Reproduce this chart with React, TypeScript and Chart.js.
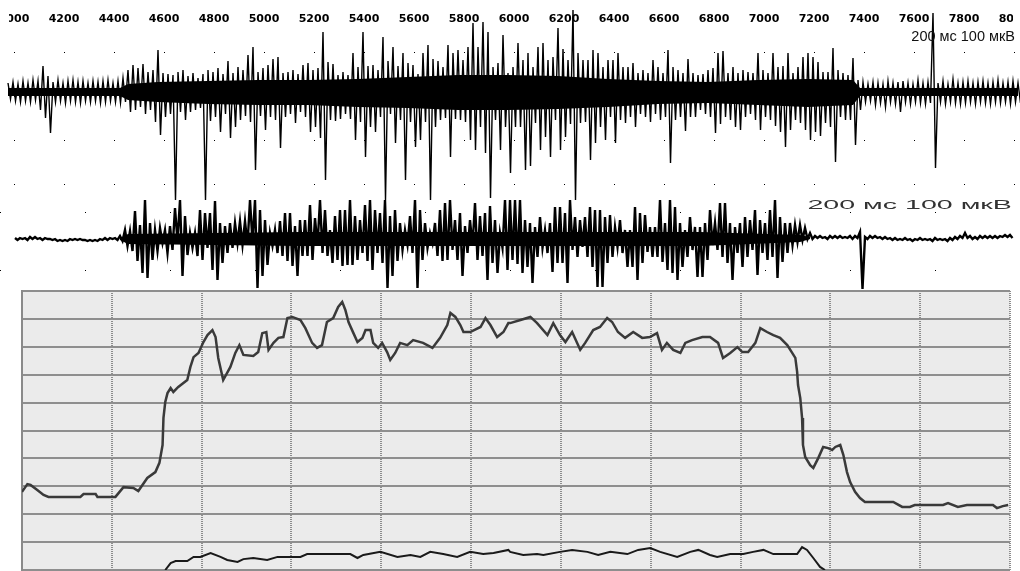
import { useEffect, useRef } from "react";
import { Chart, registerables } from "chart.js";

Chart.register(...registerables);

// ---------- Trace 1 (raw EMG, time axis 200 ms ticks) ----------
const T1_AXIS_MIN = 3944;
const T1_AXIS_MAX = 8024;
const T1_TICK_STEP = 200;
const T1_START = 3976; // ms, first column
const T1_STEP = 20; // ms per column
// peak amplitude above baseline per column
const trace1Up = [
  9, 10, 8, 11, 9, 12, 11, 26, 16, 10,
  12, 9, 11, 12, 10, 11, 9, 11, 10, 11,
  12, 9, 11, 14, 22, 27, 24, 28, 20, 22,
  42, 19, 18, 17, 20, 22, 16, 19, 14, 18,
  22, 20, 24, 18, 31, 19, 25, 22, 37, 45,
  20, 24, 27, 33, 35, 19, 20, 22, 18, 27,
  29, 22, 24, 60, 30, 28, 17, 20, 17, 39,
  25, 60, 26, 27, 22, 55, 31, 45, 26, 39,
  29, 27, 18, 39, 47, 33, 31, 25, 47, 39,
  42, 32, 45, 69, 45, 70, 60, 25, 29, 57,
  19, 25, 49, 32, 39, 25, 45, 49, 32, 35,
  64, 43, 32, 82, 39, 32, 32, 42, 39, 25,
  32, 32, 39, 25, 25, 29, 19, 22, 19, 32,
  25, 19, 42, 25, 22, 19, 33, 19, 17, 18,
  22, 24, 39, 41, 19, 25, 19, 22, 20, 19,
  39, 22, 19, 39, 25, 26, 39, 19, 25, 35,
  39, 35, 30, 20, 20, 44, 22, 19, 17, 34,
  12, 10, 8, 10, 9, 8, 11, 9, 10, 11,
  9, 8, 12, 9, 10, 79, 9, 11, 8, 13,
  9, 10, 11, 9, 10, 11, 9, 10, 12, 9,
  10, 11, 9,
];
// peak amplitude below baseline per column
const trace1Down = [
  7, 9, 10, 9, 10, 8, 18, 26, 41, 10,
  9, 11, 9, 10, 11, 9, 10, 9, 11, 10,
  9, 10, 11, 10, 20, 18, 15, 22, 18, 30,
  43, 25, 22, 108, 20, 28, 20, 18, 16, 108,
  29, 25, 40, 22, 46, 35, 28, 24, 30, 78,
  24, 38, 25, 28, 56, 25, 22, 31, 20, 25,
  40, 35, 46, 88, 28, 29, 27, 22, 27, 48,
  30, 65, 35, 40, 25, 108, 22, 51, 28, 88,
  30, 55, 48, 30, 108, 35, 28, 26, 65, 27,
  28, 30, 48, 58, 35, 61, 106, 28, 58, 35,
  81, 35, 35, 78, 74, 31, 58, 45, 65, 28,
  58, 45, 32, 108, 31, 30, 68, 51, 35, 48,
  25, 51, 28, 31, 25, 35, 22, 25, 30, 22,
  28, 25, 71, 28, 25, 39, 25, 25, 18, 22,
  25, 41, 32, 25, 28, 35, 38, 25, 22, 28,
  38, 25, 28, 34, 40, 55, 38, 28, 31, 38,
  48, 40, 44, 31, 35, 70, 25, 28, 28, 53,
  18, 10, 9, 13, 11, 15, 10, 12, 20, 10,
  12, 10, 11, 12, 11, 76, 10, 12, 10, 11,
  12, 11, 10, 12, 10, 11, 12, 10, 11, 10,
  12, 10, 11,
];
// solid core of trace 1 (dense part of the signal)
const core1Time = [3976, 4424, 4456, 4576, 4776, 4976, 5176, 5376, 5576, 5776, 5976, 6176, 6376, 6576, 6776, 6976, 7176, 7356, 7384, 8016];
const core1Up = [4, 4, 8, 10, 11, 12, 12, 13, 15, 17, 17, 16, 13, 11, 10, 12, 13, 12, 4, 4];
const core1Down = [4, 4, 8, 10, 12, 13, 13, 15, 16, 18, 18, 17, 15, 12, 11, 13, 15, 13, 4, 4];

// ---------- Trace 2 (raw EMG, second channel) ----------
const T2_AXIS_MIN = -35.3;
const T2_AXIS_MAX = 2364.7;
const T2_TICK_STEP = 200;
const T2_STEP = 200 / 17; // ms per column
const trace2Hi = [
  1, 1, 1, 2, 2, 1, 1, 0, 0, -1,
  -1, 0, 0, 0, -1, -1, -1, 0, 1, 1,
  1, 3, 9, 8, 28, 14, 39, 16, 9, 11,
  9, 13, 31, 39, 23, 6, 6, 29, 26, 26,
  38, 16, 13, 16, 16, 18, 18, 39, 39, 29,
  19, 6, 9, 18, 26, 26, 13, 19, 19, 34,
  21, 39, 29, 9, 23, 29, 29, 39, 23, 19,
  34, 39, 29, 26, 39, 23, 29, 16, 9, 23,
  39, 29, 16, 6, 16, 29, 36, 39, 19, 26,
  13, 19, 36, 23, 26, 33, 19, 6, 39, 39,
  39, 39, 19, 16, 12, 22, 9, 16, 32, 32,
  26, 39, 22, 19, 22, 32, 29, 29, 22, 24,
  12, 19, 9, 9, 32, 26, 24, 12, 12, 39,
  16, 39, 32, 16, 9, 22, 12, 12, 16, 29,
  16, 36, 36, 16, 12, 16, 22, 19, 29, 19,
  16, 29, 39, 22, 16, 16, 14, 14, 11, 6,
  3, 3, 2, 3, 3, 3, 2, 3, 3, 7,
  2, 3, 3, 2, 2, 1, 1, 0, 1, 0,
  0, 1, 0, 0, 1, 0, 0, 1, 2, 3,
  6, 3, 2, 3, 3, 3, 3, 3, 4, 4,
];
const trace2Lo = [
  -1, 0, -1, 0, 0, -1, 0, -1, -2, -2,
  -2, -1, -1, -1, -2, -2, -2, -1, -1, 0,
  -1, -2, -7, -12, -22, -34, -39, -21, -12, -4,
  -14, -11, -2, -37, -16, -9, -17, -21, -9, -31,
  -41, -24, -14, -9, -4, -6, -6, -3, -49, -37,
  -26, -7, -14, -17, -22, -27, -37, -17, -17, -21,
  -7, -14, -17, -24, -21, -27, -26, -26, -21, -14,
  -22, -31, -14, -24, -49, -37, -22, -11, -6, -14,
  -49, -21, -9, -4, -17, -22, -21, -11, -21, -37,
  -14, -7, -21, -17, -41, -24, -34, -9, -31, -21,
  -25, -34, -28, -44, -18, -9, -14, -33, -24, -24,
  -44, -11, -18, -8, -18, -28, -48, -48, -24, -18,
  -8, -14, -28, -28, -41, -24, -13, -18, -18, -23,
  -31, -34, -41, -28, -18, -11, -38, -38, -21, -6,
  -11, -18, -24, -41, -14, -28, -18, -11, -36, -14,
  -21, -18, -39, -23, -14, -6, -3, -1, 0, 0,
  1, 1, 0, 1, 1, 1, 1, 0, 1, -50,
  0, 1, 1, 0, 0, -1, -1, -1, -1, -2,
  -1, -1, -1, -2, -1, -1, -2, -1, 0, 1,
  1, 0, 0, 1, 1, 1, 1, 2, 2, 1,
];
// solid core of trace 2 during activity
const core2Time = [247, 266, 671, 1141, 1612, 1847, 1871];
const core2Hi = [1, 5, 7, 7, 7, 4, 2];
const core2Lo = [-1, -5, -7, -7, -7, -3, 0];

// ---------- Envelope panel ----------
const ENV_X_MAX = 2200;
const ENV_X_STEP = 200;
const ENV_Y_MAX = 100;
const ENV_Y_STEP = 10;
const envTime = [
  0, 12, 19, 34, 48, 59, 130, 137, 164, 168,
  208, 226, 248, 259, 279, 297, 306, 313, 315, 319,
  324, 331, 337, 348, 368, 375, 382, 393, 404, 413,
  424, 431, 437, 448, 464, 475, 484, 493, 515, 526,
  535, 544, 549, 560, 571, 582, 591, 602, 620, 631,
  646, 657, 668, 679, 693, 704, 713, 720, 727, 738,
  747, 758, 765, 776, 782, 793, 802, 813, 820, 831,
  842, 858, 871, 893, 914, 931, 947, 954, 965, 976,
  983, 998, 1021, 1032, 1043, 1058, 1072, 1083, 1087, 1110,
  1132, 1147, 1170, 1183, 1198, 1210, 1225, 1243, 1254, 1272,
  1287, 1303, 1314, 1327, 1343, 1361, 1381, 1398, 1414, 1425,
  1436, 1450, 1466, 1477, 1492, 1515, 1532, 1550, 1561, 1577,
  1593, 1604, 1617, 1633, 1644, 1659, 1673, 1688, 1704, 1715,
  1722, 1726, 1728, 1733, 1737, 1739, 1744, 1755, 1762, 1773,
  1784, 1795, 1804, 1811, 1822, 1829, 1837, 1844, 1855, 1866,
  1877, 1940, 1960, 1977, 1988, 2051, 2062, 2084, 2104, 2162,
  2171, 2184, 2196,
];
const envValue = [
  28.0, 30.8, 30.5, 28.7, 26.9, 26.2, 26.2, 27.2, 27.2, 26.2,
  26.2, 29.7, 29.4, 28.3, 33.0, 35.1, 38.4, 44.8, 54.5, 60.2,
  63.4, 65.2, 63.8, 65.6, 68.1, 72.8, 76.3, 77.8, 81.7, 84.2,
  86.0, 83.5, 76.0, 68.1, 72.8, 77.8, 80.6, 77.1, 76.7, 78.1,
  84.9, 85.3, 78.9, 81.4, 83.2, 83.5, 90.3, 90.7, 89.6, 86.7,
  81.4, 79.6, 80.6, 88.9, 90.3, 94.3, 96.1, 93.2, 88.9, 84.9,
  81.7, 83.2, 86.0, 86.0, 81.4, 79.6, 81.4, 78.1, 75.3, 77.8,
  81.4, 80.6, 82.4, 81.4, 79.6, 83.2, 87.8, 92.1, 90.7, 87.8,
  85.3, 85.3, 87.1, 90.3, 87.8, 83.5, 85.3, 88.5, 88.5, 89.6,
  90.7, 88.5, 84.2, 88.5, 84.2, 81.7, 85.3, 78.9, 81.4, 86.0,
  87.1, 90.3, 88.9, 85.3, 83.2, 85.3, 83.2, 83.5, 84.9, 78.9,
  81.4, 78.9, 77.8, 81.4, 82.4, 83.5, 83.5, 81.4, 76.0, 77.8,
  79.9, 78.1, 78.1, 81.4, 86.7, 85.3, 84.2, 83.2, 80.6, 77.8,
  76.0, 71.0, 66.3, 61.6, 54.5, 44.8, 40.5, 37.6, 36.6, 40.1,
  44.1, 43.7, 43.0, 44.1, 44.8, 41.2, 35.1, 31.5, 28.0, 25.8,
  24.4, 24.4, 22.6, 22.6, 23.3, 23.3, 24.0, 22.6, 23.3, 23.3,
  22.2, 22.9, 23.3,
];
const lowTime = [
  319, 331, 342, 368, 382, 397, 420, 442, 457, 480,
  493, 515, 546, 569, 620, 635, 731, 747, 760, 798,
  836, 865, 887, 909, 938, 969, 998, 1027, 1050, 1083,
  1087, 1116, 1147, 1161, 1198, 1225, 1259, 1283, 1310, 1348,
  1372, 1399, 1421, 1459, 1488, 1506, 1532, 1548, 1577, 1606,
  1628, 1651, 1673, 1726, 1737, 1748, 1762, 1777, 1788,
];
const lowValue = [
  0, 2.5, 3.2, 3.2, 4.7, 4.7, 6.1, 4.7, 3.6, 2.9,
  3.9, 4.3, 3.6, 4.7, 4.7, 5.7, 5.7, 4.3, 5.4, 6.5,
  4.7, 5.4, 4.7, 6.5, 5.7, 4.7, 6.5, 5.7, 6.1, 7.2,
  6.5, 5.4, 5.7, 5.4, 6.5, 7.2, 6.5, 5.4, 6.5, 5.7,
  7.2, 7.9, 6.5, 4.7, 6.5, 7.2, 5.4, 4.7, 5.7, 5.7,
  6.5, 7.2, 5.7, 5.7, 8.2, 7.2, 4.3, 1.1, 0,
];

const CAL_LABEL = "200 мс 100 мкВ";

function zigzag(start: number, step: number, hi: number[], lo: number[]) {
  const pts: { x: number; y: number }[] = [];
  hi.forEach((h, i) => {
    pts.push({ x: start + i * step, y: h });
    pts.push({ x: start + i * step + step / 2, y: lo[i] });
  });
  return pts;
}

function xy(xs: number[], ys: number[]) {
  return xs.map((x, i) => ({ x, y: ys[i] }));
}

function coreBand(xs: number[], top: number[], bottom: number[]) {
  return [
    {
      data: xy(xs, top),
      borderWidth: 0,
      pointRadius: 0,
      tension: 0,
      fill: "+1",
      backgroundColor: "#000",
      clip: false as any,
    },
    {
      data: xy(xs, bottom),
      borderWidth: 0,
      pointRadius: 0,
      tension: 0,
      fill: false,
      clip: false as any,
    },
  ];
}

const noPlugins = { legend: { display: false }, tooltip: { enabled: false } };

export default function App() {
  const c1 = useRef<HTMLCanvasElement>(null);
  const c2 = useRef<HTMLCanvasElement>(null);
  const c3 = useRef<HTMLCanvasElement>(null);

  useEffect(() => {
    const charts: Chart[] = [];
    // Trace 1
    charts.push(
      new Chart(c1.current!, {
        type: "line",
        data: {
          datasets: [
            ...coreBand(core1Time, core1Up, core1Down.map((d) => -d)),
            {
              data: zigzag(T1_START, T1_STEP, trace1Up, trace1Down.map((d) => -d)),
              borderColor: "#000",
              borderWidth: 1.4,
              pointRadius: 0,
              tension: 0,
              fill: false,
              clip: false as any,
            },
          ],
        },
        options: {
          animation: false,
          responsive: false,
          events: [],
          layout: { padding: { left: 0, right: 0, top: 0, bottom: 14 }, autoPadding: false },
          plugins: noPlugins as any,
          scales: {
            x: {
              type: "linear",
              position: "top",
              min: T1_AXIS_MIN,
              max: T1_AXIS_MAX,
              afterFit: (s: any) => {
                s.height = 28;
                s.paddingLeft = 0;
                s.paddingRight = 0;
              },
              ticks: {
                stepSize: T1_TICK_STEP,
                autoSkip: false,
                maxRotation: 0,
                includeBounds: false,
                padding: 2,
                color: "#000",
                font: { family: "DejaVu Sans", size: 11, weight: "bold" },
                callback: (v: any) => String(v),
              },
              grid: { drawTicks: false, color: "#000", lineWidth: 1 },
              border: { display: false, dash: [1, 43], dashOffset: 20 },
            },
            y: { display: false, min: -99, max: 64 },
          },
        },
      } as any)
    );
    // Trace 2
    charts.push(
      new Chart(c2.current!, {
        type: "line",
        data: {
          datasets: [
            ...coreBand(core2Time, core2Hi, core2Lo),
            {
              data: zigzag(0, T2_STEP, trace2Hi, trace2Lo),
              borderColor: "#000",
              borderWidth: 2.4,
              pointRadius: 0,
              tension: 0,
              fill: false,
              clip: false as any,
            },
          ],
        },
        options: {
          animation: false,
          responsive: false,
          events: [],
          layout: { padding: 0, autoPadding: false },
          plugins: noPlugins as any,
          scales: {
            x: {
              type: "linear",
              min: T2_AXIS_MIN,
              max: T2_AXIS_MAX,
              afterFit: (s: any) => {
                s.height = 0;
                s.paddingLeft = 0;
                s.paddingRight = 0;
              },
              ticks: { stepSize: T2_TICK_STEP, display: false, includeBounds: false },
              grid: { drawTicks: false, color: "#000", lineWidth: 1 },
              border: { display: false, dash: [1, 57], dashOffset: 41 },
            },
            y: { display: false, min: -52, max: 44 },
          },
        },
      } as any)
    );
    // Envelope panel
    charts.push(
      new Chart(c3.current!, {
        type: "line",
        data: {
          datasets: [
            {
              data: xy(envTime, envValue),
              borderColor: "#3a3a3a",
              borderWidth: 2.5,
              pointRadius: 0,
              tension: 0,
            },
            {
              data: xy(lowTime, lowValue),
              borderColor: "#1a1a1a",
              borderWidth: 2,
              pointRadius: 0,
              tension: 0,
            },
          ],
        },
        options: {
          animation: false,
          responsive: false,
          events: [],
          layout: { padding: 2, autoPadding: false },
          plugins: noPlugins as any,
          scales: {
            x: {
              type: "linear",
              min: 0,
              max: ENV_X_MAX,
              afterFit: (s: any) => {
                s.height = 0;
                s.paddingLeft = 0;
                s.paddingRight = 0;
              },
              ticks: { stepSize: ENV_X_STEP, display: false },
              grid: { drawTicks: false, color: "#8c8c8c", lineWidth: 2 },
              border: { display: false, dash: [1, 1] },
            },
            y: {
              type: "linear",
              min: 0,
              max: ENV_Y_MAX,
              afterFit: (s: any) => {
                s.width = 0;
              },
              ticks: { stepSize: ENV_Y_STEP, display: false },
              grid: { drawTicks: false, color: "#8e8e8e", lineWidth: 2 },
              border: { display: true, color: "#8a8a8a", width: 2 },
            },
          },
        },
      } as any)
    );
    return () => charts.forEach((c) => c.destroy());
  }, []);

  return (
    <div
      style={{
        position: "fixed",
        left: 0,
        top: 0,
        width: 1020,
        height: 571,
        background: "#fff",
        overflow: "hidden",
      }}
    >
      <div
        style={{
          position: "absolute",
          left: 22,
          top: 291,
          width: 988,
          height: 279,
          background: "#ebebeb",
        }}
      />
      <canvas
        ref={c3}
        width={992}
        height={283}
        style={{ position: "absolute", left: 20, top: 289, width: 992, height: 283 }}
      />
      <canvas
        ref={c2}
        width={1020}
        height={96}
        style={{ position: "absolute", left: 0, top: 195, width: 1020, height: 96 }}
      />
      <canvas
        ref={c1}
        width={1020}
        height={205}
        style={{ position: "absolute", left: 0, top: 0, width: 1020, height: 205 }}
      />
      {/* the recording window crops the outermost tick labels */}
      <div style={{ position: "absolute", left: 0, top: 0, width: 9, height: 27, background: "#fff" }} />
      <div style={{ position: "absolute", left: 1013, top: 0, width: 7, height: 27, background: "#fff" }} />
      <div
        style={{
          position: "absolute",
          right: 5,
          top: 28,
          fontFamily: "Liberation Sans, Arial, sans-serif",
          fontSize: 14.5,
          lineHeight: "16px",
          color: "#111",
          whiteSpace: "nowrap",
        }}
      >
        {CAL_LABEL}
      </div>
      <div
        style={{
          position: "absolute",
          right: 8,
          top: 197,
          fontFamily: "Liberation Sans, Arial, sans-serif",
          fontSize: 13,
          lineHeight: "16px",
          color: "#333",
          whiteSpace: "nowrap",
          transform: "scaleX(2.2)",
          transformOrigin: "right center",
        }}
      >
        {CAL_LABEL}
      </div>
    </div>
  );
}
